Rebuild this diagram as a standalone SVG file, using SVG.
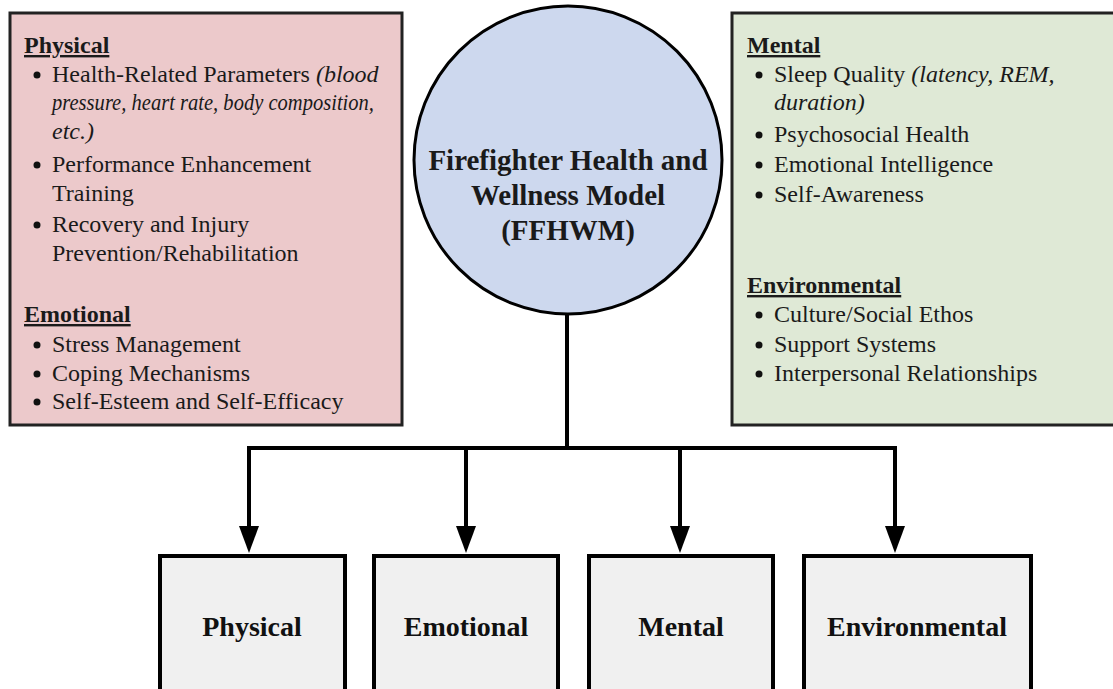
<svg xmlns="http://www.w3.org/2000/svg" width="1113" height="689" viewBox="0 0 1113 689">
<style>
.t{font-family:"Liberation Serif","Times New Roman",serif;font-size:24px;fill:#1a1a1a}
.h{font-weight:bold;text-decoration:underline}
.i{font-style:italic}
.c{font-family:"Liberation Serif","Times New Roman",serif;font-size:29px;font-weight:bold;fill:#1a1a1a;text-anchor:middle}
.b{font-family:"Liberation Serif","Times New Roman",serif;font-size:28px;font-weight:bold;fill:#111;text-anchor:middle}
.box{stroke:#222;stroke-width:3}
.bot{fill:#f0f0f0;stroke:#000;stroke-width:4}
.conn{stroke:#000;stroke-width:4;fill:none}
.dot{fill:#111}
</style>
<rect width="1113" height="689" fill="#fff"/>
<g id="physical-emotional-details">
<rect class="box" x="10" y="13" width="392" height="412" fill="#ecc9cb"/>
<text class="t h" x="24" y="53">Physical</text>
<circle class="dot" cx="37" cy="75" r="3.5"/>
<text class="t" x="52" y="82">Health-Related Parameters <tspan class="i">(blood</tspan></text>
<text class="t i" x="52" y="110" textLength="322" lengthAdjust="spacingAndGlyphs">pressure, heart rate, body composition,</text>
<text class="t i" x="52" y="139">etc.)</text>
<circle class="dot" cx="37" cy="165" r="3.5"/>
<text class="t" x="52" y="172">Performance Enhancement</text>
<text class="t" x="52" y="201">Training</text>
<circle class="dot" cx="37" cy="225" r="3.5"/>
<text class="t" x="52" y="232">Recovery and Injury</text>
<text class="t" x="52" y="261">Prevention/Rehabilitation</text>
<text class="t h" x="24" y="322">Emotional</text>
<circle class="dot" cx="37" cy="345" r="3.5"/>
<text class="t" x="52" y="352">Stress Management</text>
<circle class="dot" cx="37" cy="374" r="3.5"/>
<text class="t" x="52" y="381">Coping Mechanisms</text>
<circle class="dot" cx="37" cy="402" r="3.5"/>
<text class="t" x="52" y="409">Self-Esteem and Self-Efficacy</text>
</g>
<g id="mental-environmental-details">
<rect class="box" x="732" y="13" width="390" height="412" fill="#dfe9d6"/>
<text class="t h" x="747" y="53">Mental</text>
<circle class="dot" cx="759" cy="75" r="3.5"/>
<text class="t" x="774" y="82">Sleep Quality <tspan class="i">(latency, REM,</tspan></text>
<text class="t i" x="774" y="110">duration)</text>
<circle class="dot" cx="759" cy="135" r="3.5"/>
<text class="t" x="774" y="142">Psychosocial Health</text>
<circle class="dot" cx="759" cy="165" r="3.5"/>
<text class="t" x="774" y="172">Emotional Intelligence</text>
<circle class="dot" cx="759" cy="195" r="3.5"/>
<text class="t" x="774" y="202">Self-Awareness</text>
<text class="t h" x="747" y="293">Environmental</text>
<circle class="dot" cx="759" cy="315" r="3.5"/>
<text class="t" x="774" y="322">Culture/Social Ethos</text>
<circle class="dot" cx="759" cy="345" r="3.5"/>
<text class="t" x="774" y="352">Support Systems</text>
<circle class="dot" cx="759" cy="374" r="3.5"/>
<text class="t" x="774" y="381">Interpersonal Relationships</text>
</g>
<g id="ffhwm">
<circle cx="568" cy="160" r="154" fill="#cdd8ee" stroke="#000" stroke-width="3"/>
<text class="c" x="568" y="170">Firefighter Health and</text>
<text class="c" x="568" y="205">Wellness Model</text>
<text class="c" x="568" y="240">(FFHWM)</text>
</g>
<g id="connectors">
<path class="conn" d="M567 314 V448 M249 448 H895 M249 446 V528 M466 448 V528 M680 448 V528 M895 446 V528"/>
<polygon points="239,526 259,526 249,553"/>
<polygon points="456,526 476,526 466,553"/>
<polygon points="670,526 690,526 680,553"/>
<polygon points="885,526 905,526 895,553"/>
</g>
<g id="physical">
<rect class="bot" x="160" y="556" width="185" height="150"/>
<text class="b" x="252" y="636">Physical</text>
</g>
<g id="emotional">
<rect class="bot" x="374" y="556" width="184" height="150"/>
<text class="b" x="466" y="636">Emotional</text>
</g>
<g id="mental">
<rect class="bot" x="589" y="556" width="184" height="150"/>
<text class="b" x="681" y="636">Mental</text>
</g>
<g id="environmental">
<rect class="bot" x="804" y="556" width="227" height="150"/>
<text class="b" x="917" y="636">Environmental</text>
</g>
</svg>
